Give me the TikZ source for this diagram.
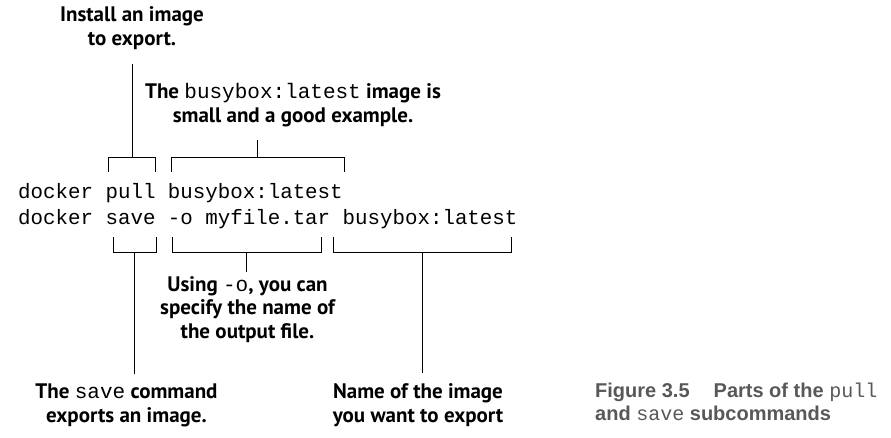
\documentclass[tikz,border=0pt]{standalone}
\usepackage{fontspec}
\setmainfont{PT Sans}
\setmonofont{Liberation Mono}
\newfontfamily\captionfont{Liberation Sans}
\definecolor{captiongray}{RGB}{88, 88, 88}
\newcommand{\cmdword}[1]{{\ttfamily\mdseries #1}}

\begin{document}
\begin{tikzpicture}[x=1pt, y=-1pt,
  note/.style={align=center, anchor=base, inner sep=0pt, font=\fontsize{21}{23.5}\selectfont\bfseries},
  code/.style={anchor=base west, inner sep=0pt, font=\fontsize{20.8}{26}\selectfont\ttfamily},
  bracket/.style={line width=1pt}]
\useasboundingbox (0, 0) rectangle (891, 437);

\node [code] (pullline) at (18, 198) {docker pull busybox:latest};
\node [code] (saveline) at (18, 224) {docker save -o myfile.tar busybox:latest};

\node [note] (install) at (132, 45) {Install an image\\to export.};
\node [note] (busynote) at (293, 122) {The \cmdword{busybox:latest} image is\\small and a good example.};
\node [note] (usingnote) at (247.5, 338) {Using \cmdword{-o}, you can\\specify the name of\\the output file.};
\node [note] (savenote) at (126.5, 422) {The \cmdword{save} command\\exports an image.};
\node [note] (namenote) at (418, 422) {Name of the image\\you want to export};

\draw [bracket] (108, 172) |- (155, 157) -- (155, 172);
\draw [bracket] (171, 172) |- (344, 157) -- (344, 172);
\draw [bracket] (113, 237) |- (156, 252) -- (156, 237);
\draw [bracket] (172, 237) |- (321, 252) -- (321, 237);
\draw [bracket] (333, 237) |- (511, 252) -- (511, 237);

\coordinate (pulltop) at (132, 157);
\coordinate (busytop) at (257.5, 157);
\coordinate (savebot) at (134.5, 252);
\coordinate (optbot) at (246.5, 252);
\coordinate (namebot) at (422, 252);

\draw [bracket] [shorten >=15pt] (pulltop) -- (pulltop |- install.south);
\draw [bracket] [shorten >=13pt] (busytop) -- (busytop |- busynote.south);
\draw [bracket] [shorten >=4pt] (optbot) -- (optbot |- usingnote.north);
\draw [bracket] [shorten >=10pt] (savebot) -- (savebot |- savenote.north);
\draw [bracket] [shorten >=10pt] (namebot) -- (namebot |- namenote.north);

\node [anchor=base west, align=left, inner sep=0pt, text=captiongray,
  font=\fontsize{20}{23}\selectfont\captionfont\bfseries] (caption) at (595, 420)
  {Figure 3.5\hspace{24pt}Parts of the \cmdword{pull}\\and \cmdword{save} subcommands};
\end{tikzpicture}
\end{document}
